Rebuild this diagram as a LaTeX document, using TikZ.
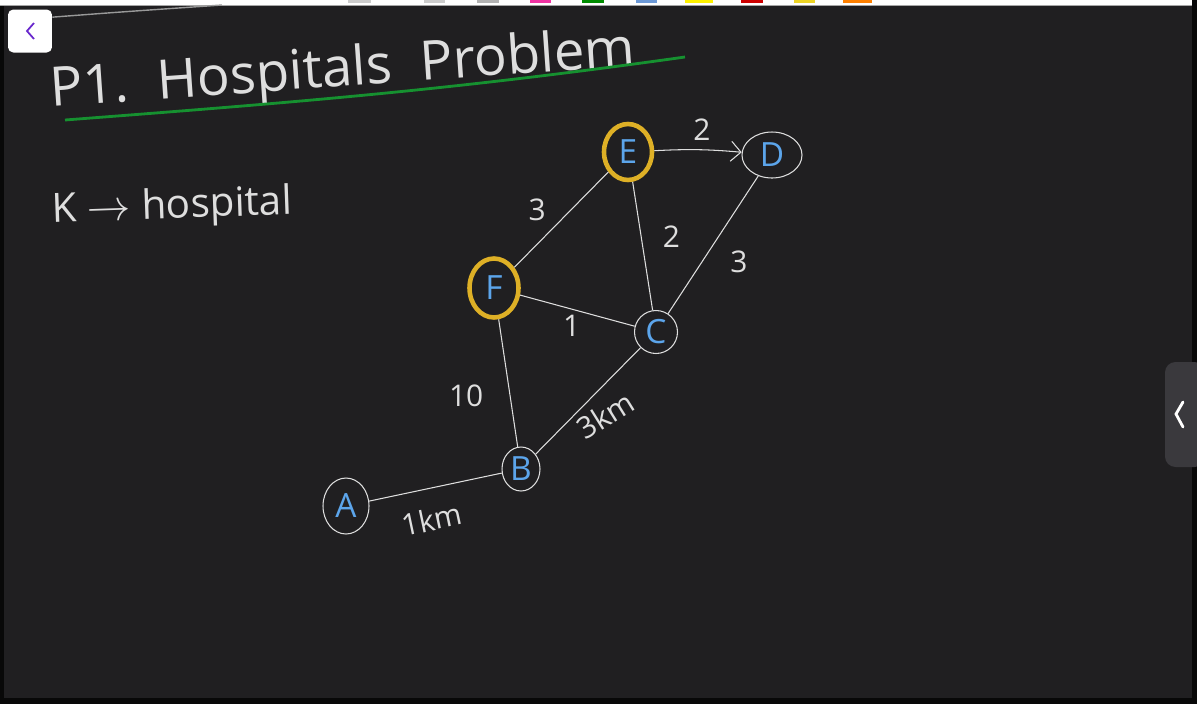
\documentclass[tikz,border=0pt]{standalone}
\usepackage{fontspec}
\setmainfont{Open Sans}
\usepackage{tikz}
\usetikzlibrary{shapes.geometric,arrows.meta,positioning,calc}
\definecolor{canvas}{RGB}{32,31,33}
\definecolor{framedark}{RGB}{8,8,8}
\definecolor{inkwhite}{RGB}{222,222,222}
\definecolor{inkblue}{RGB}{92,165,235}
\definecolor{hlyellow}{RGB}{222,176,38}
\definecolor{markgreen}{RGB}{22,145,48}
\definecolor{btnpurple}{RGB}{105,40,205}
\definecolor{tabgray}{RGB}{58,57,61}
\tikzset{
  city/.style={ellipse,draw=inkwhite,line width=0.6pt,text=inkblue,inner sep=0pt,
               font=\fontsize{19}{22}\selectfont},
  hosp/.style={city,draw=hlyellow,line width=2.6pt},
  road/.style={draw=inkwhite,line width=0.6pt},
  wt/.style={text=inkwhite,font=\fontsize{17}{20}\selectfont,inner sep=2pt},
  ink/.style={text=inkwhite,inner sep=0pt},
}

\begin{document}
\begin{tikzpicture}[x=0.02cm,y=-0.02cm]
  \useasboundingbox (0,0) rectangle (1197,704);
  % window frame and canvas
  \fill[framedark] (0,0) rectangle (1197,704);
  \fill[canvas] (4,5) rectangle (1192,698);
  \fill[white] (0,0) rectangle (1192,5);
  \draw[gray!70,line width=0.8pt] (0,5.5) -- (1192,5.5);
  % colour palette
  \foreach \xa/\xb/\col in {348/371/gray!40,424/445/gray!40,477/499/gray!60,
      530/551/magenta!80,582/604/green!55!black,636/657/cyan!50!blue!60,
      685/713/yellow,741/763/red!80!black,794/815/yellow!70!brown,843/872/orange}
    \fill[\col] (\xa,0) rectangle (\xb,3);
  % back button
  \node[fill=white,rounded corners=3pt,minimum width=0.88cm,minimum height=0.86cm,
        inner sep=0pt] (back) at (30,31) {};
  \draw[btnpurple,line width=1pt] ($(back.center)+(4,-8)$) -- ($(back.center)+(-3,0)$)
    -- ($(back.center)+(4,8)$);
  \draw[gray!80,line width=0.8pt] (back.north east) ++(0,8) .. controls (120,12) .. (222,5);
  % side tab
  \fill[tabgray,rounded corners=6pt] (1165,362) rectangle (1205,467);
  \draw[white,line width=1.6pt,line cap=round] (1183,402) -- (1176,414) -- (1183,427);

  % title
  \node[ink,font=\fontsize{31}{36}\selectfont,rotate=4] (title) at (343,72)
    {P1.\ \ Hospitals\ \ Problem};
  \draw[markgreen,line width=1.6pt] (65,120) .. controls (300,102) and (450,90) .. (685,57);
  \node[ink,font=\fontsize{23}{28}\selectfont,anchor=west,rotate=2] (note) at (52,212)
    {K $\to$ hospital};

  % cities
  \node[hosp,minimum width=0.96cm,minimum height=1.12cm] (E) at (628,152) {E};
  \node[city,minimum width=1.2cm,minimum height=0.92cm] (D) at (772,155) {D};
  \node[hosp,minimum width=0.98cm,minimum height=1.18cm] (F) at (494,288) {F};
  \node[city,minimum width=0.86cm,minimum height=0.86cm] (C) at (656,332) {C};
  \node[city,minimum width=0.76cm,minimum height=0.88cm] (B) at (521,469) {B};
  \node[city,minimum width=0.92cm,minimum height=1.12cm] (A) at (346,506) {A};

  % roads
  \draw[road,-{Straight Barb[length=2mm]}] (E) to[bend left=4] node[wt,above=3pt,pos=.55]{2} (D);
  \draw[road] (E) -- node[wt,left=12pt,pos=.4]{3} (F);
  \draw[road] (E) -- node[wt,right=10pt,pos=.43]{2} (C);
  \draw[road] (D) -- node[wt,below right=7pt,pos=.45]{3} (C);
  \draw[road] (F) -- node[wt,below=1pt,pos=.45]{1} (C);
  \draw[road] (F) -- node[wt,left=13pt,pos=.6]{10} (B);
  \draw[road] (C) -- node[wt,xshift=7pt,yshift=-11pt,rotate=32,pos=.45]{3km} (B);
  \draw[road] (A) -- node[wt,below=9pt,rotate=12,pos=.45]{1km} (B);
\end{tikzpicture}
\end{document}
